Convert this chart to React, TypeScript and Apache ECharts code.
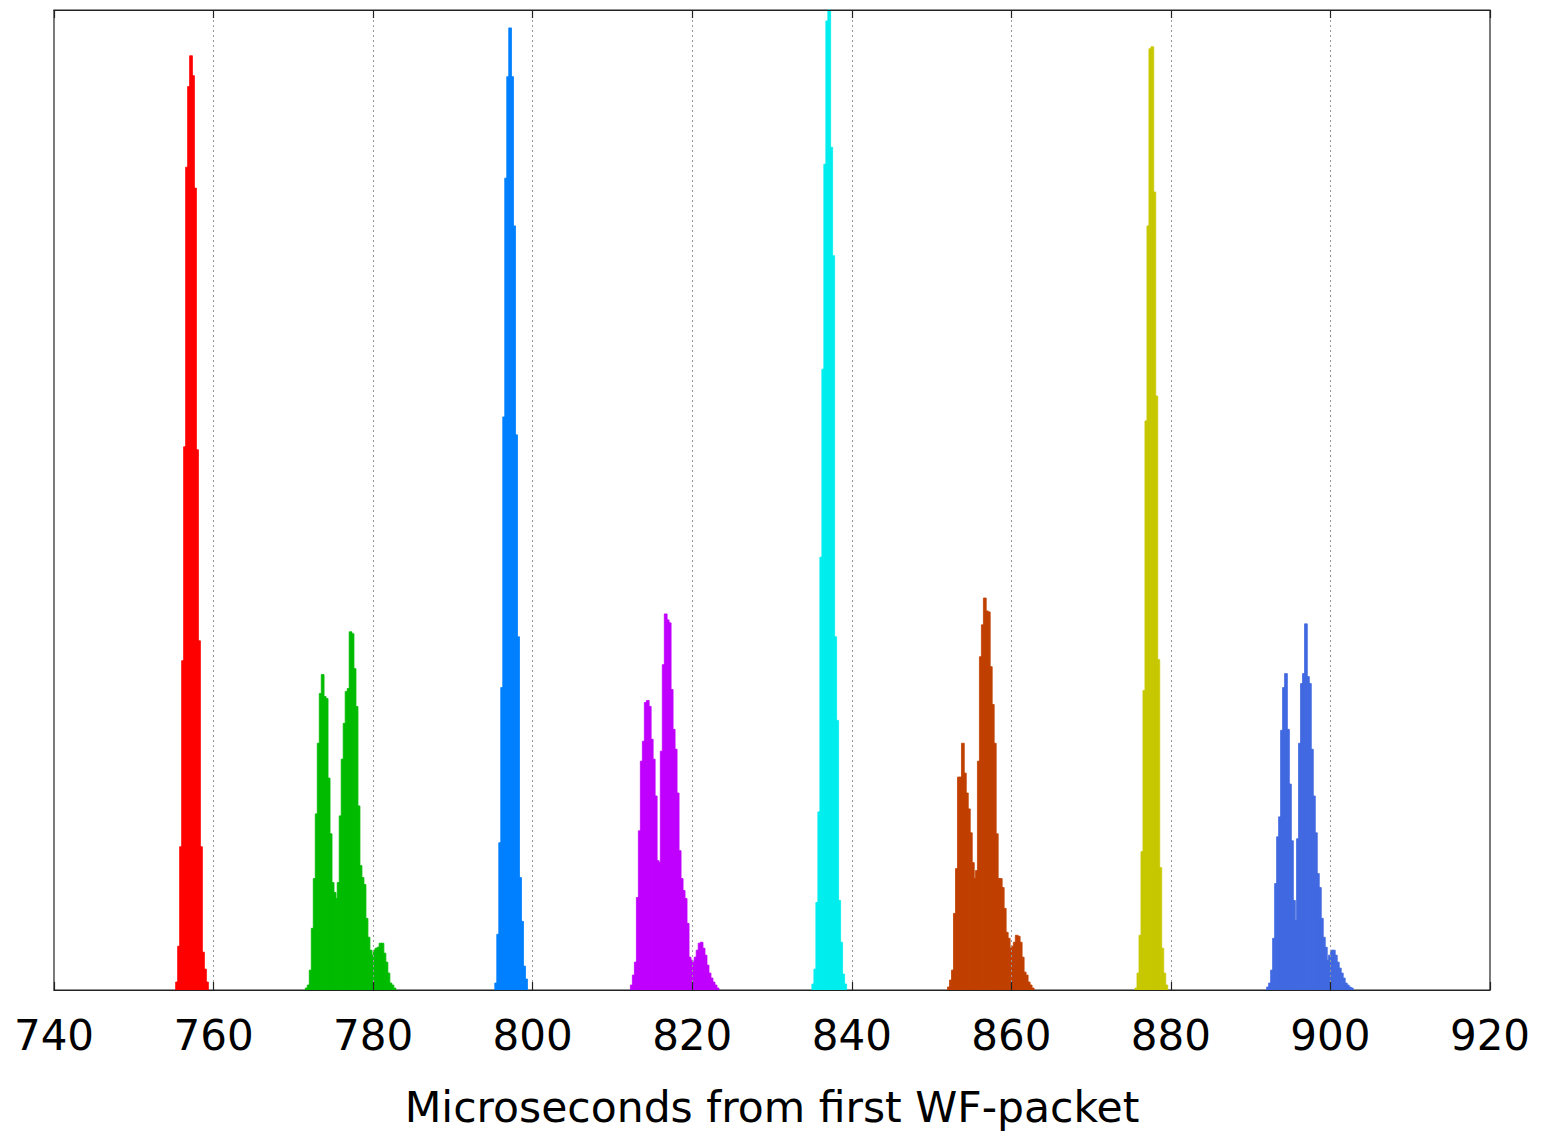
import React, { useEffect, useRef } from "react";
import * as echarts from "echarts";

const binWidth = 0.25;
const xTicks = [740, 760, 780, 800, 820, 840, 860, 880, 900, 920];
const axisTitle = "Microseconds from first WF-packet";

const redStart = 755.25;
const redCounts = [8, 44, 144, 331, 546, 827, 908, 939, 919, 806, 543, 351, 144, 38, 21, 8];

const greenStart = 771.5;
const greenCounts = [
  2, 5, 20, 62, 112, 177, 248, 298, 317, 295, 293, 213, 157, 108, 98, 92, 108, 175, 232, 268,
  300, 303, 360, 358, 323, 285, 185, 125, 113, 106, 72, 53, 40, 35, 40, 42, 43, 47, 47, 37,
  28, 17, 7, 5, 2,
];

const blueStart = 795.25;
const blueCounts = [7, 56, 148, 304, 576, 816, 918, 967, 918, 768, 558, 355, 113, 69, 24, 11];

const magentaStart = 812.25;
const magentaCounts = [
  5, 15, 28, 93, 160, 230, 250, 289, 291, 285, 252, 232, 195, 130, 128, 240, 327, 378, 372, 369,
  302, 262, 242, 198, 140, 112, 100, 92, 67, 33, 30, 28, 33, 40, 47, 48, 42, 35, 25, 17,
  12, 8, 5, 2,
];

const cyanStart = 835.0;
const cyanCounts = [6, 21, 88, 179, 435, 624, 830, 974, 985, 847, 738, 355, 271, 90, 48, 16, 6];

const orangeStart = 852.0;
const orangeCounts = [
  3, 10, 20, 77, 122, 214, 214, 248, 218, 198, 182, 158, 128, 112, 120, 230, 335, 367, 394, 381,
  380, 325, 287, 248, 157, 112, 112, 103, 82, 58, 52, 42, 44, 48, 55, 54, 48, 33, 18, 15,
  8, 5, 2,
];

const yellowStart = 875.5;
const yellowCounts = [2, 17, 55, 139, 301, 572, 768, 946, 948, 802, 597, 332, 123, 42, 17, 5];

const royalStart = 892.0;
const royalCounts = [
  3, 7, 20, 52, 107, 154, 174, 261, 304, 318, 262, 207, 150, 90, 70, 152, 248, 308, 318, 368,
  315, 308, 242, 195, 158, 117, 103, 72, 53, 43, 30, 35, 40, 40, 35, 28, 22, 17, 12, 7,
  5, 3, 2,
];

const histograms = [
  { name: "h1", start: redStart, counts: redCounts, color: "#ff0000" },
  { name: "h2", start: greenStart, counts: greenCounts, color: "#00bb00" },
  { name: "h3", start: blueStart, counts: blueCounts, color: "#0080ff" },
  { name: "h4", start: magentaStart, counts: magentaCounts, color: "#c000ff" },
  { name: "h5", start: cyanStart, counts: cyanCounts, color: "#00eeee" },
  { name: "h6", start: orangeStart, counts: orangeCounts, color: "#c04000" },
  { name: "h7", start: yellowStart, counts: yellowCounts, color: "#c8c800" },
  { name: "h8", start: royalStart, counts: royalCounts, color: "#4169e1" },
];

export default function App() {
  const ref = useRef<HTMLDivElement>(null);
  useEffect(() => {
    if (!ref.current) return;
    const chart = echarts.init(ref.current, null, { renderer: "svg" });
    const font = "DejaVu Sans";
    const series = histograms.map((h) => ({
      type: "custom",
      name: h.name,
      xAxisIndex: 0,
      yAxisIndex: 0,
      encode: { x: 0, y: 1 },
      data: h.counts.map((c, i) => [h.start + i * binWidth, c]),
      renderItem: (params: any, api: any) => {
        const x0 = api.value(0);
        const v = api.value(1);
        const p0 = api.coord([x0, v]);
        const p1 = api.coord([x0 + binWidth, 0]);
        return {
          type: "rect",
          shape: { x: p0[0], y: p0[1], width: p1[0] - p0[0] + 0.8, height: p1[1] - p0[1] },
          style: { fill: h.color, stroke: h.color, lineWidth: 0.8 },
        };
      },
    }));
    chart.setOption({
      animation: false,
      backgroundColor: "#ffffff",
      grid: {
        left: 54,
        right: 51,
        top: 10,
        bottom: 125,
        show: true,
        borderColor: "#222",
        borderWidth: 1.2,
        backgroundColor: "transparent",
      },
      xAxis: [
        {
          type: "value",
          min: 740,
          max: 920,
          interval: 20,
          position: "bottom",
          z: 5,
          name: axisTitle,
          nameLocation: "middle",
          nameGap: 96,
          nameTextStyle: { fontFamily: font, fontSize: 42.5, color: "#000" },
          axisLine: { show: true, onZero: false, lineStyle: { color: "#222", width: 1.2 } },
          axisTick: { show: true, inside: true, length: 8, lineStyle: { color: "#222", width: 1.2 } },
          axisLabel: {
            show: true,
            fontFamily: font,
            fontSize: 42,
            color: "#000",
            margin: 24,
            showMinLabel: true,
            showMaxLabel: true,
            formatter: (v: number) => (xTicks.includes(v) ? String(v) : ""),
          },
          splitLine: {
            show: true,
            showMinLine: false,
            showMaxLine: false,
            lineStyle: { color: "#999", type: [2, 3], width: 1 },
          },
        },
        {
          type: "value",
          min: 740,
          max: 920,
          interval: 20,
          position: "top",
          z: 5,
          axisLine: { show: true, onZero: false, lineStyle: { color: "#222", width: 1.2 } },
          axisTick: { show: true, inside: true, length: 8, lineStyle: { color: "#222", width: 1.2 } },
          axisLabel: { show: false },
          splitLine: { show: false },
        },
      ],
      yAxis: {
        type: "value",
        min: 0,
        max: 985,
        axisLine: { show: false },
        axisTick: { show: false },
        axisLabel: { show: false },
        splitLine: { show: false },
      },
      series,
    });
    return () => chart.dispose();
  }, []);
  return (
    <div
      ref={ref}
      style={{ position: "fixed", left: 0, top: 0, width: 1541, height: 1134, background: "#fff" }}
    />
  );
}
